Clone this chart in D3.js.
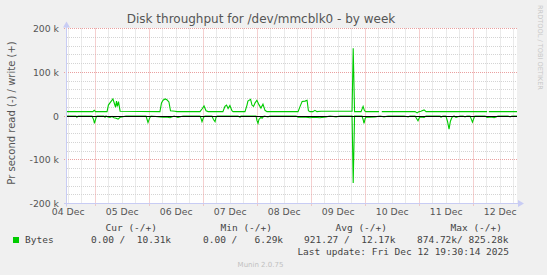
<!DOCTYPE html>
<html>
<head>
<meta charset="utf-8">
<script src="https://cdn.jsdelivr.net/npm/d3@7"></script>
<style>
    html, body { margin: 0; padding: 0; background: #f0f0f0; }
    svg { display: block; }
    text { font-family: "DejaVu Sans", sans-serif; }
    .mono { font-family: "DejaVu Sans Mono", monospace; }
</style>
</head>
<body>
<svg id="chart" width="547" height="275"></svg>
<script>
(function (d3) {
    'use strict';

    // hours after 04 Dec 00:00, values in k (bytes / second)
    var writeHours = [11.5, 23.0, 23.6, 24.2, 29.3, 29.9, 30.6, 31.9, 32.6, 33.1, 33.5, 33.9, 34.4, 35.1,
        52.8, 53.5, 54.2, 55.1, 55.9, 56.8, 57.5, 59.5, 60.4,
        70.6, 71.5, 72.4, 73.3, 74.2, 80.8, 81.7, 82.4, 83.1, 83.9, 84.8, 85.3,
        90.6, 91.5, 91.9, 93.1, 93.7, 94.4, 95.1, 95.9, 96.8, 97.7, 98.6, 99.5, 100.4,
        114.2, 115.1, 116.0, 117.3, 118.2, 118.8, 119.5, 120.8, 121.7, 122.6, 124.4,
        138.2, 138.7, 139.3, 142.2, 143.1, 143.7, 144.4, 150.2, 150.8, 151.4,
        166.2, 167.1, 168.0, 168.8, 170.2, 171.1, 198.2, 198.6, 199.0, 211.5];
    var writeK = [10, 10, 13, 10, 10, 25, 30, 39, 28, 20, 34, 22, 33, 11,
        10, 30, 36, 39, 37, 32, 12, 11, 10,
        10, 16, 23, 12, 10, 10, 22, 25, 17, 24, 12, 10,
        10, 25, 34, 38, 25, 22, 30, 36, 26, 18, 27, 13, 10,
        10, 22, 33, 34, 36, 12, 10, 10, 13, 10, 11,
        11, 155, 10, 10, 22, 12, 10, 10, null, 10,
        10, 7, 10, 11, 14, 10, 10, null, 10, 10];

    var readHours = [11.5, 15.5, 15.9, 16.4, 22.6, 23.3, 23.7, 24.4, 24.8, 27.9, 28.4, 28.8,
        29.7, 30.6, 31.5, 32.4, 33.3, 34.2, 35.1, 35.9, 36.8, 37.7,
        46.6, 47.1, 47.5, 48.2, 48.8, 52.8, 54.2, 55.5, 57.3, 59.1, 60.8, 63.1,
        70.6, 71.1, 71.5, 72.2, 72.8, 75.9, 76.6, 77.3, 77.7, 78.2, 87.5, 88.4, 88.8,
        95.5, 95.9, 96.4, 96.8, 97.7, 98.2, 99.1, 100.8, 101.7,
        113.3, 114.2, 116.9, 119.5, 121.3, 123.9, 126.6, 128.4, 131.1, 132.8,
        138.2, 138.7, 139.3, 142.6, 143.1, 143.5, 144.0, 144.4, 146.2, 148.4, 150.7, 152.4, 154.2,
        161.3, 163.1, 163.9, 166.2, 166.8, 167.5, 168.2, 168.8, 170.2, 171.1,
        177.3, 177.7, 178.6, 179.9, 180.6, 181.3, 181.9, 182.6, 183.5, 184.4, 186.2,
        187.5, 188.4, 189.3, 190.6, 191.1, 191.7, 192.4, 192.8,
        197.3, 198.2, 200.0, 201.3, 202.2, 203.1, 207.5, 208.4, 209.3, 211.5];
    var readK = [0, 0, 3, 0, 0, 8, 17, 4, 0, 0, 3, 0,
        2, 3, 1, 4, 5, 7, 3, 2, 1, 0,
        0, 8, 15, 5, 0, 2, 3, 2, 4, 0, 3, 0,
        0, 6, 13, 3, 0, 0, 8, 13, 4, 0, 0, 3, 0,
        0, 10, 17, 8, 3, 5, 0, 2, 0,
        0, 3, 2, 4, 3, 4, 2, 0, 2, 0,
        0, 153, 0, 0, 8, 17, 6, 2, 3, 2, 0, 2, 0,
        0, 2, 0, 0, 5, 11, 3, 2, 3, 0,
        0, 3, 0, 0, 12, 30, 12, 3, 0, 3, 0,
        0, 2, 0, 0, 6, 14, 4, 0,
        0, 3, 2, 4, 2, 0, 0, 2, 0, 0];

    var yTicks = [200, 100, 0, -100, -200];
    var dayLabels = ['04 Dec', '05 Dec', '06 Dec', '07 Dec', '08 Dec', '09 Dec', '10 Dec', '11 Dec', '12 Dec'];

    var legendHeads = ['Cur (-/+)', 'Min (-/+)', 'Avg (-/+)', 'Max (-/+)'];
    var legendValues = ['0.00 /  10.31k', '0.00 /   6.29k', '921.27 /  12.17k', '874.72k/ 825.28k'];

    var LEFT = 67, RIGHT = 517, TOP = 28.5, BOTTOM = 203.5,
        GREEN = '#00cc00';

    var base = Date.UTC(2025, 11, 4, 0, 0);
    function hoursToDate(h) { return new Date(base + h * 3600000); }

    var svg = d3.select('#chart');

    var x = d3.scaleUtc()
        .domain([hoursToDate(11.5), hoursToDate(211.5)])
        .range([LEFT, RIGHT]);
    var y = d3.scaleLinear()
        .domain([-200, 200])
        .range([BOTTOM, TOP]);

    function snap(v) { return Math.round(v - 0.5) + 0.5; }

    // plot background
    svg.append('rect')
        .attr('x', LEFT).attr('y', TOP - 0.5)
        .attr('width', RIGHT - LEFT).attr('height', BOTTOM - TOP)
        .attr('fill', '#ffffff');

    var grid = svg.append('g');

    // minor grid, every 6 hours / 20k
    x.ticks(d3.utcHour.every(6)).forEach(function (t) {
        if (t.getUTCHours() === 0) return;
        grid.append('line')
            .attr('x1', snap(x(t))).attr('x2', snap(x(t)))
            .attr('y1', TOP).attr('y2', BOTTOM)
            .attr('stroke', '#d4d4d4').attr('stroke-dasharray', '1,1');
    });
    d3.range(-200, 201, 20).forEach(function (v) {
        if (v % 100 === 0) return;
        grid.append('line')
            .attr('x1', LEFT).attr('x2', RIGHT)
            .attr('y1', snap(y(v))).attr('y2', snap(y(v)))
            .attr('stroke', '#d4d4d4').attr('stroke-dasharray', '1,1');
    });

    // major grid, midnight / 100k
    var midnights = x.ticks(d3.utcDay.every(1));
    midnights.forEach(function (t) {
        grid.append('line')
            .attr('x1', snap(x(t))).attr('x2', snap(x(t)))
            .attr('y1', TOP).attr('y2', BOTTOM + 3)
            .attr('stroke', '#eaa0a0').attr('stroke-dasharray', '1,1');
    });
    yTicks.forEach(function (v) {
        grid.append('line')
            .attr('x1', LEFT - 3).attr('x2', RIGHT)
            .attr('y1', snap(y(v))).attr('y2', snap(y(v)))
            .attr('stroke', '#eaa0a0').attr('stroke-dasharray', '1,1');
    });

    // y tick labels
    function fmtK(v) { return v === 0 ? '0' : v + ' k'; }
    svg.append('g').selectAll('text')
        .data(yTicks)
        .enter().append('text')
        .attr('x', 59)
        .attr('y', function (d) { return y(d) + 3.5; })
        .attr('text-anchor', 'end')
        .attr('font-size', '9.3px')
        .attr('fill', '#555')
        .text(fmtK);

    // x labels at noon
    svg.append('g').selectAll('text')
        .data(dayLabels)
        .enter().append('text')
        .attr('x', function (d, i) { return x(hoursToDate(12 + i * 24)); })
        .attr('y', 215)
        .attr('text-anchor', 'middle')
        .attr('font-size', '9.3px')
        .attr('fill', '#555')
        .text(function (d) { return d; });

    // series
    var writeData = writeHours.map(function (h, i) { return { t: hoursToDate(h), v: writeK[i] }; });
    var readData = readHours.map(function (h, i) { return { t: hoursToDate(h), v: -readK[i] }; });

    var line = d3.line()
        .defined(function (d) { return d.v !== null; })
        .x(function (d) { return x(d.t); })
        .y(function (d) { return y(d.v); });

    svg.append('path').datum(readData)
        .attr('d', line).attr('fill', 'none')
        .attr('stroke', GREEN).attr('stroke-width', 1.1);
    svg.append('path').datum(writeData)
        .attr('d', line).attr('fill', 'none')
        .attr('stroke', GREEN).attr('stroke-width', 1.1);

    // zero line
    svg.append('line')
        .attr('x1', LEFT).attr('x2', RIGHT)
        .attr('y1', snap(y(0))).attr('y2', snap(y(0)))
        .attr('stroke', '#000').attr('stroke-width', 1);

    // axes with arrows
    var axisColor = '#c8ccf4';
    svg.append('line')
        .attr('x1', LEFT - 0.5).attr('x2', LEFT - 0.5)
        .attr('y1', BOTTOM + 3).attr('y2', TOP - 4)
        .attr('stroke', axisColor);
    svg.append('path')
        .attr('d', 'M' + (LEFT - 4) + ',' + (TOP - 1) + 'L' + (LEFT - 0.5) + ',' + (TOP - 7) + 'L' + (LEFT + 3) + ',' + (TOP - 1) + 'Z')
        .attr('fill', axisColor);
    svg.append('line')
        .attr('x1', LEFT - 3).attr('x2', RIGHT + 2)
        .attr('y1', BOTTOM).attr('y2', BOTTOM)
        .attr('stroke', axisColor);
    svg.append('path')
        .attr('d', 'M' + (RIGHT + 1) + ',' + (BOTTOM - 3.5) + 'L' + (RIGHT + 7) + ',' + BOTTOM + 'L' + (RIGHT + 1) + ',' + (BOTTOM + 3.5) + 'Z')
        .attr('fill', axisColor);

    // title and side texts
    svg.append('text')
        .attr('x', 261).attr('y', 23)
        .attr('text-anchor', 'middle')
        .attr('font-size', '12px')
        .attr('fill', '#555')
        .text('Disk throughput for /dev/mmcblk0 - by week');

    svg.append('text')
        .attr('transform', 'translate(15,113) rotate(-90)')
        .attr('text-anchor', 'middle')
        .attr('font-size', '10px')
        .attr('fill', '#555')
        .text('Pr second read (-) / write (+)');

    svg.append('text')
        .attr('transform', 'translate(538,5) rotate(90)')
        .attr('text-anchor', 'start')
        .attr('font-size', '6.6px')
        .attr('fill', '#c8c8c8')
        .text('RRDTOOL / TOBI OETIKER');

    // legend
    var legend = svg.append('g').attr('class', 'mono')
        .attr('font-size', '9.5px').attr('fill', '#444');
    var headEnds = [157, 272, 387, 502],
        valueStarts = [91, 203, 304, 417];

    legend.selectAll('text.head')
        .data(legendHeads)
        .enter().append('text')
        .attr('class', 'head mono')
        .attr('x', function (d, i) { return headEnds[i]; })
        .attr('y', 231)
        .attr('text-anchor', 'end')
        .attr('xml:space', 'preserve')
        .text(function (d) { return d; });

    legend.append('rect')
        .attr('x', 13).attr('y', 237).attr('width', 6).attr('height', 6)
        .attr('fill', GREEN);
    legend.append('text')
        .attr('class', 'mono')
        .attr('x', 25).attr('y', 243)
        .text('Bytes');

    legend.selectAll('text.val')
        .data(legendValues)
        .enter().append('text')
        .attr('class', 'val mono')
        .attr('x', function (d, i) { return valueStarts[i]; })
        .attr('y', 243)
        .attr('xml:space', 'preserve')
        .style('white-space', 'pre')
        .text(function (d) { return d; });

    legend.append('text')
        .attr('class', 'mono')
        .attr('x', 509).attr('y', 255)
        .attr('text-anchor', 'end')
        .style('white-space', 'pre')
        .text('Last update: Fri Dec 12 19:30:14 2025');

    svg.append('text')
        .attr('x', 260.5).attr('y', 267)
        .attr('text-anchor', 'middle')
        .attr('font-size', '7px')
        .attr('fill', '#c0c0c0')
        .text('Munin 2.0.75');

})(this.d3);
</script>
</body>
</html>
